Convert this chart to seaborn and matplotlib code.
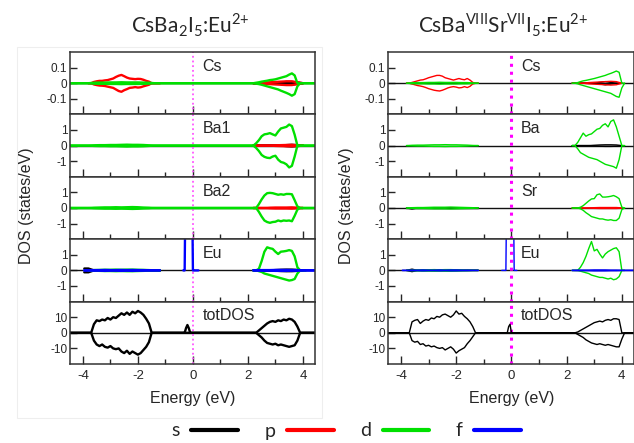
import numpy as np
import pandas as pd
import matplotlib
matplotlib.use("Agg")
import matplotlib.pyplot as plt
import seaborn as sns
from matplotlib.lines import Line2D
from matplotlib.patches import Rectangle

# ---------------- data ----------------
XMIN, XMAX = -4.47, 4.44
E_VB = [-3.8, -3.7, -3.6, -3.5, -3.4, -3.3, -3.2, -3.1, -3.0, -2.9, -2.8, -2.7, -2.6, -2.5,
        -2.4, -2.3, -2.2, -2.1, -2.0, -1.9, -1.8, -1.7, -1.6, -1.5, -1.4, -1.3, -1.2]
E_CB = [2.2, 2.3, 2.4, 2.5, 2.6, 2.7, 2.8, 2.9, 3.0, 3.1, 3.2, 3.3, 3.4, 3.5, 3.6, 3.7, 3.8, 3.9, 4.0, 4.1]
E_F = [-0.35, -0.3, -0.25, -0.2, -0.15, -0.1, -0.05, 0.0, 0.05, 0.1, 0.15, 0.2]
E_VBS = [-3.8, -3.6, -3.4, -3.2, -3.0, -2.8, -2.6, -2.4, -2.2, -2.0, -1.8, -1.6, -1.4, -1.2]
E_CBS = [2.2, 2.4, 2.6, 2.8, 3.0, 3.2, 3.4, 3.6, 3.8, 4.0]

# ---- left structure: CsBa2I5:Eu2+ ----
L_TOT_VB_UP = [0, 0, 5.5, 8, 7.5, 8.5, 8, 9.5, 8.5, 10, 9.5, 11, 12.5, 11.5, 13, 11.5, 13.5, 12.5, 14, 13, 11.5, 9, 6, 0, 0, 0, 0]
L_TOT_VB_DN = [0, 0, -5, -7.5, -8.5, -7.5, -9, -9.5, -8.5, -10, -10.5, -10, -12, -13, -11.5, -13.5, -12, -13, -14, -13, -11, -9, -6, 0, 0, 0, 0]
L_TOT_CB_UP = [0, 0, 1.5, 3, 4.5, 6, 7, 7.5, 7, 8, 7.5, 8.5, 8, 9, 8.5, 7, 4, 0, 0, 0]
L_TOT_CB_DN = [0, 0, -1.5, -3, -5, -6.5, -7, -7.5, -7, -8, -7.5, -8, -8.5, -9, -8.5, -8, -5, 0, 0, 0]
L_TOT_F = [0, 0, 3, 5, 3, 0, 0, 0, 0, 0, 0, 0]

L_CS_P_VB_UP = [0, 0, 0.008, 0.012, 0.015, 0.015, 0.018, 0.02, 0.025, 0.03, 0.04, 0.048, 0.053, 0.045, 0.036, 0.03, 0.028, 0.026, 0.028, 0.027, 0.022, 0.015, 0.01, 0, 0, 0, 0]
L_CS_P_VB_DN = [0, 0, -0.008, -0.012, -0.015, -0.016, -0.018, -0.022, -0.026, -0.03, -0.04, -0.05, -0.055, -0.045, -0.038, -0.03, -0.028, -0.025, -0.028, -0.026, -0.02, -0.015, -0.01, 0, 0, 0, 0]
L_CS_D_CB_UP = [0, 0.003, 0.006, 0.01, 0.013, 0.016, 0.02, 0.022, 0.025, 0.03, 0.035, 0.04, 0.045, 0.055, 0.063, 0.05, 0, 0, 0, 0]
L_CS_D_CB_DN = [0, -0.003, -0.006, -0.01, -0.015, -0.02, -0.025, -0.03, -0.035, -0.04, -0.048, -0.055, -0.062, -0.07, -0.08, -0.07, -0.02, 0, 0, 0]
L_CS_D_VB = [0, 0.003, 0.004, 0.004, 0.005, 0.005, 0.006, 0.005, 0.005, 0.005, 0.004, 0.003, 0, 0]
L_CS_P_CB = [0, 0, 0.004, 0.006, 0.008, 0.01, 0.012, 0.012, 0.006, 0]
L_CS_S_CB = [0, 0, 0, 0, 0, 0.004, 0.008, 0.008, 0.004, 0]

L_BA1_D_CB_UP = [0, 0.15, 0.35, 0.6, 0.72, 0.75, 0.8, 0.72, 0.65, 0.9, 1.1, 1.15, 1.2, 1.35, 1.25, 0.7, 0, 0, 0, 0]
L_BA1_D_CB_DN = [0, -0.15, -0.35, -0.6, -0.72, -0.78, -0.8, -0.7, -0.65, -0.9, -1.05, -1.1, -1.2, -1.4, -1.3, -0.7, 0, 0, 0, 0]
L_BA1_D_VB = [0, 0.02, 0.03, 0.03, 0.04, 0.04, 0.05, 0.06, 0.05, 0.05, 0.04, 0.02, 0, 0]
L_BA1_P_CB = [0, 0, 0, 0, 0.02, 0.03, 0.04, 0.05, 0.02, 0]
L_BA1_S_CB = [0, 0, 0, 0, 0, 0, 0.03, 0.05, 0.03, 0]

L_BA2_D_CB_UP = [0, 0, 0.25, 0.55, 0.8, 0.95, 0.97, 0.95, 0.9, 0.85, 0.88, 0.85, 0.9, 0.9, 0.88, 0.5, 0.1, 0, 0, 0]
L_BA2_D_CB_DN = [0, 0, -0.25, -0.55, -0.8, -0.9, -0.95, -0.9, -0.88, -0.8, -0.85, -0.8, -0.82, -0.8, -0.85, -0.5, -0.1, 0, 0, 0]
L_BA2_D_VB = [0, 0.02, 0.03, 0.04, 0.04, 0.05, 0.04, 0.05, 0.06, 0.05, 0.03, 0.02, 0, 0]
L_BA2_P_CB = [0, 0, 0, 0.02, 0.03, 0.03, 0.03, 0.04, 0.02, 0]

L_EU_D_CB_UP = [0, 0, 0.1, 0.6, 1.2, 1.48, 1.42, 1.38, 1.2, 1.05, 1.2, 1.22, 1.25, 1.3, 1.25, 0.9, 0.2, 0, 0, 0]
L_EU_D_CB_DN = [0, 0, -0.05, -0.1, -0.2, -0.25, -0.3, -0.35, -0.4, -0.45, -0.5, -0.55, -0.6, -0.65, -0.62, -0.55, -0.2, 0, 0, 0]
L_EU_D_VB = [0, 0.02, 0.03, 0.04, 0.04, 0.05, 0.04, 0.05, 0.05, 0.04, 0.03, 0.02, 0, 0]
L_EU_F_UP = [0, 0, 9, 9, 9, 9, 9, 0, 0, 0, 0, 0]
L_EU_F_VB = [0.01, 0.02, 0.02, 0.03, 0.02, 0.02, 0.03, 0.02, 0.03, 0.02, 0.02, 0.01, 0.01, 0.0]
L_EU_F_CB = [0.01, 0.02, 0.02, 0.02, 0.03, 0.03, 0.03, 0.02, 0.02, 0.01]
L_EU_S_VB = [0.12, 0, 0, 0, 0, 0, 0, 0, 0, 0, 0, 0, 0, 0]
L_EU_S_CB = [0, 0, 0, 0, 0.02, 0.04, 0.05, 0.05, 0.03, 0]

# ---- right structure: CsBa(VIII)Sr(VII)I5:Eu2+ ----
R_TOT_VB_UP = [0, 0, 7, 8, 8.5, 6, 7.5, 8.5, 8, 9.5, 9, 10.5, 10, 11.5, 12, 11, 10, 11.5, 14, 12, 12.5, 10.5, 9, 7, 4, 0, 0]
R_TOT_VB_DN = [0, 0, -5, -6, -5.5, -7.5, -7, -8.5, -8, -9, -8.5, -9.5, -10, -9.5, -11, -10, -9, -10.5, -13, -11.5, -10.5, -9.5, -7, -5, -2.5, 0, 0]
R_TOT_CB_UP = [0, 0, 0.5, 1.5, 2.5, 3.5, 4.5, 5.5, 6.5, 7, 7.5, 7, 8, 8.5, 8, 9, 9, 8.5, 0, 0]
R_TOT_CB_DN = [0, 0, -1, -2, -3, -4.5, -5.5, -6.5, -7, -7.5, -7, -7.5, -8, -7.5, -8, -8.5, -9, -9, -4, 0]
R_TOT_F = [0, 0, 0, 0, 0, 4, 5.5, 0, 0, 0, 0, 0]

R_CS_P_VB_UP = [0, 0, 0.005, 0.01, 0.015, 0.02, 0.022, 0.028, 0.035, 0.04, 0.045, 0.05, 0.05, 0.045, 0.035, 0.03, 0.025, 0.02, 0.025, 0.03, 0.025, 0.022, 0.03, 0.02, 0.005, 0, 0]
R_CS_P_VB_DN = [0, 0, -0.005, -0.01, -0.015, -0.018, -0.022, -0.028, -0.035, -0.04, -0.045, -0.048, -0.05, -0.045, -0.038, -0.03, -0.025, -0.022, -0.025, -0.03, -0.028, -0.022, -0.028, -0.02, -0.005, 0, 0]
R_CS_D_CB_UP = [0, 0, 0.004, 0.01, 0.015, 0.018, 0.022, 0.026, 0.03, 0.035, 0.04, 0.045, 0.05, 0.057, 0.063, 0.07, 0.078, 0.07, 0, 0]
R_CS_D_CB_DN = [0, 0, -0.004, -0.01, -0.015, -0.02, -0.025, -0.03, -0.035, -0.04, -0.045, -0.05, -0.055, -0.06, -0.065, -0.075, -0.085, -0.09, -0.03, 0]
R_CS_D_VB = [0, 0.003, 0.004, 0.004, 0.005, 0.005, 0.006, 0.005, 0.005, 0.005, 0.004, 0.004, 0.002, 0]
R_CS_P_CB = [0, 0, 0, 0.004, 0.006, 0.008, 0.01, 0.012, 0.01, 0]
R_CS_S_CB = [0, 0, 0, 0, 0, 0.005, 0.01, 0.005, 0, 0]

R_BA_D_CB_UP = [0, 0, 0.2, 0.5, 0.8, 0.6, 0.7, 0.75, 0.9, 1.05, 1.1, 1.3, 1.4, 1.2, 1.55, 1.65, 1.2, 0.6, 0, 0]
R_BA_D_CB_DN = [0, 0, -0.2, -0.45, -0.55, -0.65, -0.75, -0.8, -0.85, -0.9, -1.0, -1.1, -1.2, -1.25, -1.3, -1.35, -1.45, -0.9, 0, 0]
R_BA_D_VB = [0, 0.02, 0.03, 0.03, 0.04, 0.05, 0.05, 0.06, 0.05, 0.05, 0.04, 0.03, 0.01, 0]
R_BA_S_CB = [0, 0, 0, 0, 0.02, 0.04, 0.05, 0.05, 0.04, 0]

R_SR_D_CB_UP = [0, 0, 0, 0.05, 0.15, 0.3, 0.45, 0.58, 0.6, 0.85, 0.9, 0.7, 0.7, 0.72, 0.75, 0.8, 0.72, 0.6, 0.05, 0]
R_SR_D_CB_DN = [0, 0, 0, -0.05, -0.15, -0.3, -0.42, -0.55, -0.6, -0.65, -0.7, -0.7, -0.75, -0.78, -0.75, -0.8, -0.8, -0.65, -0.1, 0]
R_SR_D_VB = [0, 0.02, 0.03, 0.03, 0.04, 0.05, 0.05, 0.05, 0.06, 0.05, 0.04, 0.03, 0.02, 0]
R_SR_P_CB = [0, 0, 0, 0.01, 0.02, 0.03, 0.03, 0.03, 0.03, 0.01]
R_SR_S_VB = [0, -0.06, 0, 0, 0, 0, 0, 0, 0, 0, 0, 0, 0, 0]

R_EU_D_CB_UP = [0, 0, 0, 0.2, 0.5, 0.9, 1.4, 1.85, 1.25, 1.35, 1.05, 0.8, 1.05, 1.2, 1.3, 1.4, 1.45, 1.2, 0, 0]
R_EU_D_CB_DN = [0, 0, 0, -0.05, -0.1, -0.15, -0.2, -0.3, -0.35, -0.4, -0.45, -0.45, -0.5, -0.55, -0.5, -0.6, -0.55, -0.4, 0, 0]
R_EU_D_VB = [0, 0.02, 0.03, 0.04, 0.04, 0.05, 0.04, 0.05, 0.05, 0.04, 0.03, 0.02, 0.01, 0]
R_EU_F_UP = [0, 0, 0, 0, 9, 9, 9, 9, 9, 0, 0, 0]
R_EU_F_VB = [0.01, 0.02, 0.02, 0.03, 0.02, 0.02, 0.03, 0.02, 0.03, 0.03, 0.02, 0.02, 0.01, 0.01]
R_EU_F_CB = [0.01, 0.02, 0.02, 0.02, 0.03, 0.03, 0.03, 0.02, 0.02, 0.01]
R_EU_S_VB = [0, 0.08, 0, 0, 0, 0, 0, 0, 0, 0, 0, 0, 0, 0]

LEFT_LABELS = ["Cs", "Ba1", "Ba2", "Eu", "totDOS"]
RIGHT_LABELS = ["Cs", "Ba", "Sr", "Eu", "totDOS"]
YTICKS = [[0.1, 0, -0.1], [1, 0, -1], [1, 0, -1], [1, 0, -1], [10, 0, -10]]
YTICKLABELS = [["0.1", "0", "-0.1"], ["1", "0", "-1"], ["1", "0", "-1"], ["1", "0", "-1"], ["10", "0", "-10"]]
YLIMS = [0.2, 2, 2, 2, 20]
XTICKS = [-4, -2, 0, 2, 4]
XTICKLABELS = ["-4", "-2", "0", "2", "4"]
ORBITALS = ["s", "p", "d", "f"]
COLORS = {"s": "#000000", "p": "#ff0000", "d": "#00e000", "f": "#0000ff"}

# ---------------- assemble long table ----------------
rows = []
cid = [0]


def add(side, panel, orb, E, vals, pad=None):
    E = list(E)
    vals = list(vals)
    if pad == "full":
        E = [XMIN] + E + [XMAX]
        vals = [0] + vals + [0]
    elif pad == "right":
        E = E + [XMAX]
        vals = vals + [vals[-1]]
    elif pad == "left":
        E = [E[0] - 0.15] + E
        vals = [vals[0]] + vals
    cid[0] += 1
    for e, v in zip(E, vals):
        rows.append(dict(side=side, panel=panel, orb=orb, curve=cid[0], E=e, DOS=v))


def neg(v):
    return [-x for x in v]


for sgn in (1, -1):
    f = (lambda v: v) if sgn == 1 else neg
    up = sgn == 1
    # left
    add("L", 0, "p", E_VB, L_CS_P_VB_UP if up else L_CS_P_VB_DN)
    add("L", 0, "p", E_CBS, f(L_CS_P_CB))
    add("L", 0, "s", E_CBS, f(L_CS_S_CB))
    add("L", 0, "d", E_VBS + E_CB, f(L_CS_D_VB) + (L_CS_D_CB_UP if up else L_CS_D_CB_DN), pad="full")
    add("L", 1, "p", E_CBS, f(L_BA1_P_CB))
    add("L", 1, "s", E_CBS, f(L_BA1_S_CB))
    add("L", 1, "d", E_VBS + E_CB, f(L_BA1_D_VB) + (L_BA1_D_CB_UP if up else L_BA1_D_CB_DN), pad="full")
    add("L", 2, "p", E_CBS, f(L_BA2_P_CB))
    add("L", 2, "d", E_VBS + E_CB, f(L_BA2_D_VB) + (L_BA2_D_CB_UP if up else L_BA2_D_CB_DN), pad="full")
    add("L", 3, "s", E_VBS, f(L_EU_S_VB), pad="left")
    add("L", 3, "s", E_CBS, f(L_EU_S_CB))
    add("L", 3, "d", E_VBS, f(L_EU_D_VB))
    add("L", 3, "d", E_CB, L_EU_D_CB_UP if up else L_EU_D_CB_DN)
    add("L", 3, "f", E_VBS, f(L_EU_F_VB), pad="left")
    add("L", 3, "f", E_CBS, f(L_EU_F_CB), pad="right")
    add("L", 4, "s", E_VB + E_F + E_CB,
        (L_TOT_VB_UP + L_TOT_F + L_TOT_CB_UP) if up else (L_TOT_VB_DN + [0] * len(E_F) + L_TOT_CB_DN), pad="full")
    # right
    add("R", 0, "p", E_VB, R_CS_P_VB_UP if up else R_CS_P_VB_DN)
    add("R", 0, "p", E_CBS, f(R_CS_P_CB))
    add("R", 0, "s", E_CBS, f(R_CS_S_CB))
    add("R", 0, "d", E_VBS, f(R_CS_D_VB))
    add("R", 0, "d", E_CB, R_CS_D_CB_UP if up else R_CS_D_CB_DN)
    add("R", 1, "s", E_CBS, f(R_BA_S_CB))
    add("R", 1, "d", E_VBS, f(R_BA_D_VB))
    add("R", 1, "d", E_CB, R_BA_D_CB_UP if up else R_BA_D_CB_DN)
    add("R", 2, "s", E_VBS, R_SR_S_VB if up else [0] * len(E_VBS))
    add("R", 2, "p", E_CBS, f(R_SR_P_CB))
    add("R", 2, "d", E_VBS, f(R_SR_D_VB))
    add("R", 2, "d", E_CB, R_SR_D_CB_UP if up else R_SR_D_CB_DN)
    add("R", 3, "s", E_VBS, f(R_EU_S_VB))
    add("R", 3, "d", E_VBS, f(R_EU_D_VB))
    add("R", 3, "d", E_CB, R_EU_D_CB_UP if up else R_EU_D_CB_DN)
    add("R", 3, "f", E_VBS, f(R_EU_F_VB), pad="left")
    add("R", 3, "f", E_CBS, f(R_EU_F_CB), pad="right")
    add("R", 4, "s", E_VB + E_F + E_CB,
        (R_TOT_VB_UP + R_TOT_F + R_TOT_CB_UP) if up else (R_TOT_VB_DN + [0] * len(E_F) + R_TOT_CB_DN), pad="full")

add("L", 3, "f", E_F, L_EU_F_UP)
add("R", 3, "f", E_F, R_EU_F_UP)

df = pd.DataFrame(rows)

# ---------------- plotting ----------------
sns.set_theme(style="ticks")
plt.rcParams["font.family"] = ["Liberation Sans", "DejaVu Sans"]
plt.rcParams["axes.edgecolor"] = "#333333"

W, H = 634, 443
fig = plt.figure(figsize=(W / 100, H / 100), dpi=100)
fig.patch.set_facecolor("white")

fig.patches.append(Rectangle((17 / W, 1 - 418 / H), (322 - 17) / W, (418 - 47) / H,
                             transform=fig.transFigure, fill=False, ec="#eeeeee", lw=0.8))

TOP, PH = 52.0, 62.4
sides = {"L": dict(x0=70, w=245, lw=1.7, mag="#ff55ff", mlw=1.3, labels=LEFT_LABELS, cx=193, ylx=27),
         "R": dict(x0=388, w=246, lw=1.0, mag="#ff00ff", mlw=2.2, labels=RIGHT_LABELS, cx=512, ylx=346)}

for side, cfg in sides.items():
    for i in range(5):
        bottom = 1 - (TOP + (i + 1) * PH) / H
        ax = fig.add_axes([cfg["x0"] / W, bottom, cfg["w"] / W, PH / H])
        ax.set_facecolor("white")
        ax.axhline(0, color="#111111", lw=1.0, zorder=1)
        sub = df[(df.side == side) & (df.panel == i)]
        present = [o for o in ORBITALS if o in set(sub.orb)]
        for o in present:
            so = sub[sub.orb == o]
            sns.lineplot(data=so, x="E", y="DOS", units="curve", estimator=None, sort=False,
                         color=COLORS[o], lw=cfg["lw"], legend=False, ax=ax, zorder=2)
        ax.axvline(0, color=cfg["mag"], ls=(0, (1, 1.6)), lw=cfg["mlw"], zorder=1.5)
        ax.set_xlim(XMIN, XMAX)
        ax.set_ylim(-YLIMS[i], YLIMS[i])
        ax.set_yticks(YTICKS[i])
        ax.set_yticklabels(YTICKLABELS[i], fontsize=8.5)
        ax.set_xticks(XTICKS)
        ax.set_xticks([-3, -1, 1, 3], minor=True)
        ax.set_xticklabels(XTICKLABELS, fontsize=9.5)
        ax.tick_params(axis="x", which="major", direction="in", length=6, width=1, top=False, pad=4)
        ax.tick_params(axis="x", which="minor", direction="in", length=3.5, width=1, top=False)
        ax.tick_params(axis="y", direction="in", length=5, width=1, right=False, pad=2)
        if i < 4:
            ax.tick_params(axis="x", which="both", labelbottom=False)
        ax.set_xlabel("")
        ax.set_ylabel("")
        for sp in ax.spines.values():
            sp.set_visible(True)
            sp.set_linewidth(1.1)
            sp.set_color("#333333")
        ax.text(0.35, 0.77 * 2 * YLIMS[i] - YLIMS[i], cfg["labels"][i], fontsize=11.5,
                ha="left", va="center")
    fig.text(cfg["ylx"] / W, 1 - 206 / H, "DOS (states/eV)",
             rotation=90, ha="center", va="center", fontsize=11.5)
    fig.text(cfg["cx"] / W, 1 - 398 / H, "Energy (eV)", ha="center", va="center", fontsize=11.5)

fig.text(190 / W, 1 - 25 / H, r"CsBa$_\mathregular{2}$I$_\mathregular{5}$:Eu$^\mathregular{2{+}}$",
         ha="center", va="center", fontsize=15, family="Lato")
fig.text(503 / W, 1 - 25 / H,
         r"CsBa$^\mathregular{VIII}$Sr$^\mathregular{VII}$I$_\mathregular{5}$:Eu$^\mathregular{2{+}}$",
         ha="center", va="center", fontsize=15, family="Lato")

handles = [Line2D([], [], color=COLORS[o], lw=3) for o in ORBITALS]
fig.legend(handles, ORBITALS, loc="center", bbox_to_anchor=(346 / W, 1 - 431 / H), ncol=4,
           frameon=False, markerfirst=False, handlelength=2.4, handletextpad=0.6,
           columnspacing=1.35, prop={"family": "Lato", "size": 14})

fig.savefig("out.png", dpi=100, facecolor="white")
